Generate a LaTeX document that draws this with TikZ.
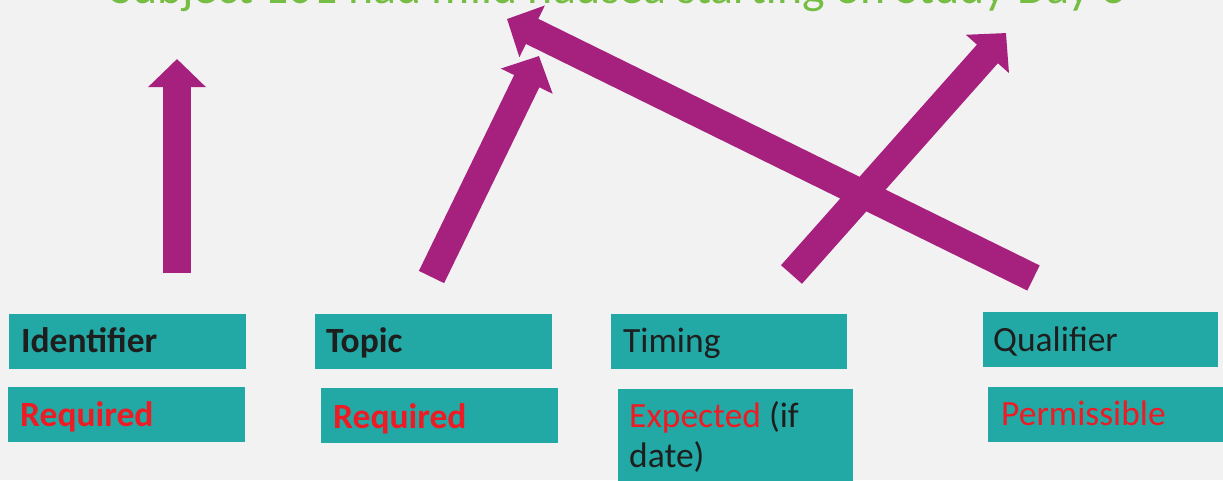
\documentclass[tikz,border=0pt]{standalone}
\usepackage{fontspec}
\setmainfont{Carlito}
\usetikzlibrary{arrows.meta}
\definecolor{bg}{RGB}{242,242,242}
\definecolor{teal1}{RGB}{35,169,165}
\definecolor{mag}{RGB}{166,32,126}
\definecolor{grn}{RGB}{118,190,67}
\definecolor{redt}{RGB}{237,28,36}
\definecolor{txt}{RGB}{30,30,30}
\tikzset{
  box/.style={fill=teal1, anchor=north west, inner sep=0pt, outer sep=0pt},
  lbl/.style={anchor=base west, inner sep=0pt, font=\fontsize{35.5}{40}\selectfont, text=txt},
  boldlbl/.style={lbl, font=\fontsize{35.5}{40}\selectfont\bfseries},
  blockarrow/.style={draw=mag, line width=28pt, -{Triangle[width=56pt,length=28pt]}}
}
\begin{document}
\begin{tikzpicture}[x=1pt,y=-1pt]
\useasboundingbox (0,0) rectangle (1223,480);
\fill[bg] (0,0) rectangle (1223,480);
\begin{scope}
\clip (0,0) rectangle (1223,480);
\node[anchor=base west, inner sep=0pt, text=grn, font=\fontsize{47.8}{50}\selectfont] (title) at (110,3) {Subject 101 had mild nausea starting on Study Day 3};
% boxes
\node[box, minimum width=237pt, minimum height=55pt] (idbox) at (9,314) {};
\node[box, minimum width=237pt, minimum height=55pt] (req1box) at (8,387) {};
\node[box, minimum width=237pt, minimum height=55pt] (topbox) at (315,314) {};
\node[box, minimum width=237pt, minimum height=55pt] (req2box) at (321,388) {};
\node[box, minimum width=236pt, minimum height=55pt] (timbox) at (611,314) {};
\node[box, minimum width=235pt, minimum height=100pt] (expbox) at (618,389) {};
\node[box, minimum width=235pt, minimum height=55pt] (qualbox) at (983,312) {};
\node[box, minimum width=240pt, minimum height=55pt] (permbox) at (988,387) {};
% labels
\node[boldlbl] (idt) at (21,352) {Identifier};
\node[boldlbl, text=redt] (req1) at (20,426) {Required};
\node[boldlbl] (topt) at (326,352) {Topic};
\node[boldlbl, text=redt] (req2) at (333,428) {Required};
\node[lbl] (timt) at (623,352) {Timing};
\node[lbl] (qualt) at (993,351) {Qualifier};
\node[lbl, text=redt] (permt) at (1001,425) {Permissible};
\node[lbl] (expt1) at (629,427) {\textcolor{redt}{Expected} (if};
\node[lbl] (expt2) at (629,467) {date)};
% arrows
\coordinate (a1s) at (177,273);
\coordinate (a1e) at (177,59);
\coordinate (a2s) at (431.5,277);
\coordinate (a2e) at (539,56);
\coordinate (a3s) at (1033.5,278);
\coordinate (a3e) at (507,19);
\coordinate (a4s) at (791.5,274.5);
\coordinate (a4e) at (1006,33);
\draw[blockarrow] (a1s) -- (a1e);
\draw[blockarrow] (a2s) -- (a2e);
\draw[blockarrow] (a3s) -- (a3e);
\draw[blockarrow] (a4s) -- (a4e);
\end{scope}
\end{tikzpicture}
\end{document}
